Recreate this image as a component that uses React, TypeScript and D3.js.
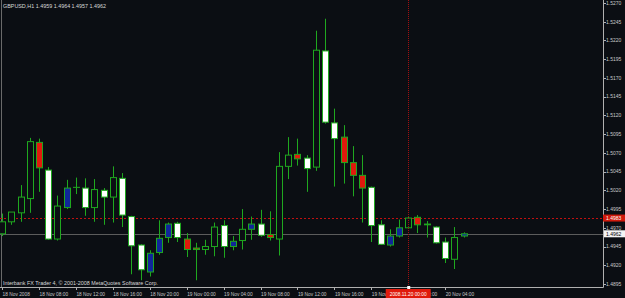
import React from "react";
import * as d3 from "d3";

const W = 625;
const H = 298;

const opens = [1.4962, 1.4978, 1.4990, 1.5009, 1.5084, 1.5047, 1.4955, 1.4997, 1.5024, 1.5023, 1.4997, 1.5020, 1.5011, 1.5036, 1.4985, 1.4947, 1.4911, 1.4937, 1.4957, 1.4976, 1.4955, 1.4943, 1.4941, 1.4945, 1.4973, 1.4945, 1.4953, 1.4968, 1.4975, 1.4961, 1.4955, 1.5052, 1.5068, 1.5063, 1.5051, 1.5206, 1.5110, 1.5091, 1.5057, 1.5040, 1.5024, 1.4974, 1.4947, 1.4959, 1.4970, 1.4984, 1.4975, 1.4971, 1.4951, 1.4928, 1.4959];
const highs = [1.4989, 1.4991, 1.5027, 1.5090, 1.5089, 1.5051, 1.5013, 1.5034, 1.5037, 1.5036, 1.5035, 1.5023, 1.5052, 1.5043, 1.4986, 1.4948, 1.4940, 1.4980, 1.4977, 1.4978, 1.4963, 1.4950, 1.4954, 1.4977, 1.4980, 1.4959, 1.4995, 1.4985, 1.4994, 1.4992, 1.5071, 1.5091, 1.5089, 1.5067, 1.5233, 1.5249, 1.5129, 1.5107, 1.5079, 1.5067, 1.5025, 1.4980, 1.4968, 1.4981, 1.4985, 1.4987, 1.4979, 1.4972, 1.4957, 1.4971, 1.4964];
const lows = [1.4959, 1.4974, 1.4978, 1.4990, 1.5018, 1.4954, 1.4953, 1.4995, 1.5015, 1.4986, 1.4978, 1.4974, 1.4977, 1.4971, 1.4908, 1.4900, 1.4905, 1.4934, 1.4950, 1.4951, 1.4931, 1.4900, 1.4934, 1.4932, 1.4930, 1.4940, 1.4941, 1.4954, 1.4958, 1.4953, 1.4933, 1.5035, 1.5053, 1.5018, 1.5046, 1.5109, 1.5025, 1.5029, 1.5012, 1.4977, 1.4951, 1.4947, 1.4945, 1.4957, 1.4969, 1.4963, 1.4957, 1.4949, 1.4923, 1.4915, 1.4957];
const closes = [1.4978, 1.4991, 1.5011, 1.5085, 1.5050, 1.4955, 1.4999, 1.5023, 1.5024, 1.4997, 1.5021, 1.5011, 1.5037, 1.4987, 1.4946, 1.4914, 1.4936, 1.4956, 1.4975, 1.4957, 1.4941, 1.4941, 1.4945, 1.4971, 1.4945, 1.4952, 1.4968, 1.4975, 1.4960, 1.4957, 1.5052, 1.5067, 1.5062, 1.5049, 1.5207, 1.5111, 1.5089, 1.5057, 1.5040, 1.5023, 1.4973, 1.4948, 1.4959, 1.4970, 1.4983, 1.4974, 1.4974, 1.4950, 1.4929, 1.4957, 1.4962];
// h = hollow, w = white, r = red, b = blue
const kinds = ["h", "h", "h", "h", "r", "w", "h", "b", "h", "w", "h", "w", "h", "w", "w", "w", "b", "b", "b", "w", "r", "r", "h", "h", "w", "b", "h", "b", "w", "r", "h", "h", "r", "w", "h", "w", "w", "r", "r", "r", "w", "w", "b", "b", "h", "r", "r", "w", "w", "h", "b"];

const priceTicks = [1.5270, 1.5245, 1.5220, 1.5195, 1.5170, 1.5145, 1.5120, 1.5095, 1.5070, 1.5045, 1.5020, 1.4995, 1.4970, 1.4945, 1.4920, 1.4895];
const timeLabelBars = [0, 4, 8, 12, 16, 20, 24, 28, 32, 36, 40, 44, 48];
const timeLabels = ["18 Nov 2008", "18 Nov 08:00", "18 Nov 12:00", "18 Nov 16:00", "18 Nov 20:00", "19 Nov 00:00", "19 Nov 04:00", "19 Nov 08:00", "19 Nov 12:00", "19 Nov 16:00", "19 Nov 20:00", "20 Nov 00:00", "20 Nov 04:00"];

const symbolTitle = "GBPUSD,H1";
const lastOHLC = ["1.4959", "1.4964", "1.4957", "1.4962"];
const askLine = 1.4983;
const bidLine = 1.4962;
const crossBar = 44;
const crossLabel = "2008.11.20 00:00";
const footer = "Interbank FX Trader 4, \u00a9 2001-2008 MetaQuotes Software Corp.";

const BG = "#0b0e13";
const GREEN = "#1fa81f";
const FILL: Record<string, string> = { h: BG, w: "#ffffff", r: "#e01a0c", b: "#10279a" };
const FONT = "'Liberation Sans', Arial, sans-serif";

export default function App() {
  const plotRight = 603;
  const plotBottom = 287;
  const x = d3.scaleLinear().domain([0, 50]).range([2.1, 463.6]);
  const y = d3.scaleLinear().domain([1.4895, 1.5270]).range([284, 3]);
  const bodyW = 6;

  return (
    <svg width={W} height={H} style={{ position: "absolute", left: 0, top: 0, display: "block" }}
      xmlns="http://www.w3.org/2000/svg">
      <rect x={0} y={0} width={W} height={H} fill={BG} />
      {/* left border */}
      <line x1={1.5} x2={1.5} y1={0} y2={plotBottom} stroke="#6a6a6a" strokeWidth={1} />
      {/* bid line */}
      <line x1={0} x2={plotRight} y1={Math.round(y(bidLine)) + 0.5} y2={Math.round(y(bidLine)) + 0.5} stroke="#5c5c5c" strokeWidth={1} />
      {/* ask line */}
      <line x1={0} x2={plotRight} y1={Math.round(y(askLine)) + 0.5} y2={Math.round(y(askLine)) + 0.5} stroke="#c01010" strokeWidth={1} strokeDasharray="2,2" />
      {/* candles */}
      {opens.map((o, i) => {
        const c = closes[i];
        const cx = Math.round(x(i)) + 0.5;
        const top = y(Math.max(o, c));
        const bot = y(Math.min(o, c));
        const hgt = Math.max(bot - top, 0.01);
        return (
          <g key={i}>
            <line x1={cx} x2={cx} y1={y(highs[i])} y2={top} stroke={GREEN} strokeWidth={1} />
            <line x1={cx} x2={cx} y1={bot} y2={y(lows[i])} stroke={GREEN} strokeWidth={1} />
            <rect x={cx - bodyW / 2} y={top} width={bodyW} height={hgt} fill={FILL[kinds[i]]} stroke={GREEN} strokeWidth={1} />
          </g>
        );
      })}
      {/* crosshair */}
      <line x1={Math.round(x(crossBar)) + 0.5} x2={Math.round(x(crossBar)) + 0.5} y1={0} y2={plotBottom} stroke="#a01010" strokeWidth={1} strokeDasharray="1,1" />
      {/* axes */}
      <line x1={plotRight + 0.5} x2={plotRight + 0.5} y1={0} y2={plotBottom + 0.5} stroke="#b0b0b0" strokeWidth={1} />
      <line x1={0} x2={plotRight + 0.5} y1={plotBottom + 0.5} y2={plotBottom + 0.5} stroke="#b0b0b0" strokeWidth={1} />
      {priceTicks.map((p) => (
        <g key={p}>
          <line x1={plotRight} x2={plotRight + 3} y1={Math.round(y(p)) + 0.5} y2={Math.round(y(p)) + 0.5} stroke="#b0b0b0" />
          <text x={606} y={y(p) + 1.8} fontSize={5} fontFamily={FONT} fill="#c8c8c8">{p.toFixed(4)}</text>
        </g>
      ))}
      {/* price labels */}
      <rect x={603} y={y(askLine) - 3.5} width={22} height={7} fill="#d01a0c" />
      <text x={606} y={y(askLine) + 1.8} fontSize={5} fontFamily={FONT} fill="#ffffff">{askLine.toFixed(4)}</text>
      <rect x={604} y={y(bidLine) - 3.5} width={21} height={7} fill="#f4f4f4" />
      <text x={606} y={y(bidLine) + 1.8} fontSize={5} fontFamily={FONT} fill="#000000">{bidLine.toFixed(4)}</text>
      {/* time labels */}
      {timeLabelBars.map((b, k) => (
        <g key={b}>
          <line x1={Math.round(x(b)) + 0.5} x2={Math.round(x(b)) + 0.5} y1={plotBottom} y2={plotBottom + 3} stroke="#b0b0b0" />
          <text x={x(b) + 0.5} y={295.5} fontSize={4.8} fontFamily={FONT} fill="#c8c8c8">{timeLabels[k]}</text>
        </g>
      ))}
      <rect x={x(crossBar) - 22.5} y={289} width={45} height={9} fill="#e01a0c" />
      <text x={x(crossBar)} y={295.5} fontSize={4.8} fontFamily={FONT} fill="#ffffff" textAnchor="middle">{crossLabel}</text>
      <rect x={x(crossBar) - 1} y={plotBottom - 1} width={3} height={3} fill="#ffffff" />
      {/* header */}
      <text x={3} y={8} fontSize={5.4} fontFamily={FONT} fill="#d8d8d8">
        {symbolTitle + "  " + lastOHLC.join(" ")}
      </text>
      {/* footer */}
      <text x={3} y={285} fontSize={5.4} fontFamily={FONT} fill="#d8d8d8">{footer}</text>
    </svg>
  );
}
